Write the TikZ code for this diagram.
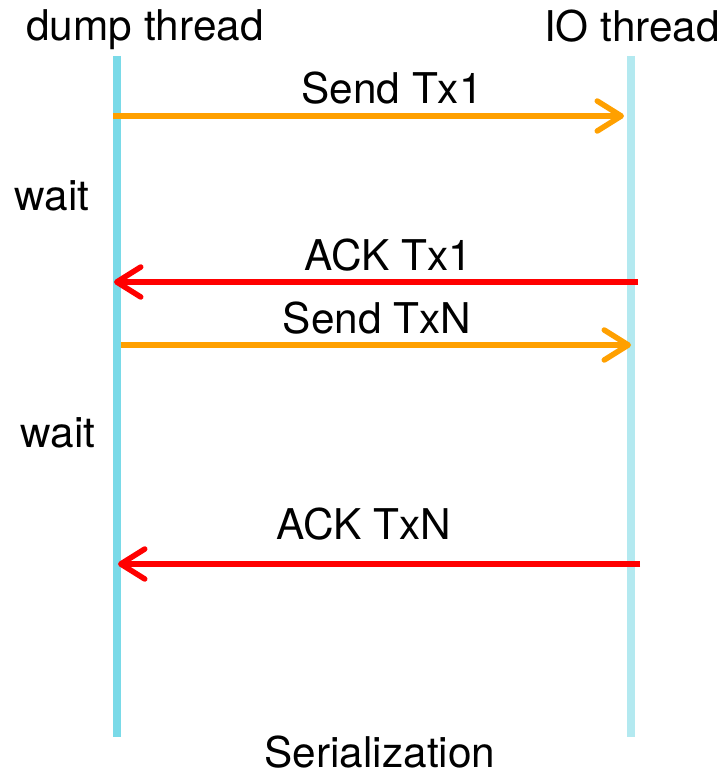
\documentclass[tikz,border=0pt]{standalone}
\usepackage{fontspec}
\setmainfont{TeX Gyre Heros}
\usetikzlibrary{arrows.meta}
\definecolor{lifeA}{RGB}{122,218,232}
\definecolor{lifeB}{RGB}{179,233,240}
\definecolor{sendcol}{RGB}{255,160,0}
\definecolor{ackcol}{RGB}{255,0,0}
\tikzset{
  msg/.style={line width=5.5bp,-{Straight Barb[length=24bp,width=30bp,line cap=round,line join=round]}},
  lbl/.style={inner sep=0pt,font=\fontsize{42.5}{46}\selectfont}
}
\begin{document}
\begin{tikzpicture}[x=1bp,y=-1bp]
\useasboundingbox (0,0) rectangle (724,776);
\coordinate (dtop) at (117,56);
\coordinate (dbot) at (117,737);
\coordinate (itop) at (631,56);
\coordinate (ibot) at (631,737);
\draw[lifeA,line width=7.5bp] (dtop) -- (dbot);
\draw[lifeB,line width=7.5bp] (itop) -- (ibot);
\coordinate (s1a) at (113,116);
\coordinate (s1b) at (624,116);
\coordinate (a1a) at (638,282);
\coordinate (a1b) at (114,282);
\coordinate (s2a) at (121,345);
\coordinate (s2b) at (631,345);
\coordinate (a2a) at (640,564);
\coordinate (a2b) at (118,564);
\draw[msg,sendcol] (s1a) -- (s1b);
\draw[msg,ackcol] (a1a) -- (a1b);
\draw[msg,sendcol] (s2a) -- (s2b);
\draw[msg,ackcol] (a2a) -- (a2b);
\node[lbl] (dump) at (145,30) {dump thread};
\node[lbl] (io) at (632,26) {IO thread};
\node[lbl] (send1) at (392,88) {Send Tx1};
\node[lbl] (ack1) at (388,255) {ACK Tx1};
\node[lbl] (send2) at (377,318) {Send TxN};
\node[lbl] (ack2) at (364,524) {ACK TxN};
\node[lbl] (wait1) at (52,196) {wait};
\node[lbl] (wait2) at (58,433) {wait};
\node[lbl] (ser) at (380,752) {Serialization};
\end{tikzpicture}
\end{document}
